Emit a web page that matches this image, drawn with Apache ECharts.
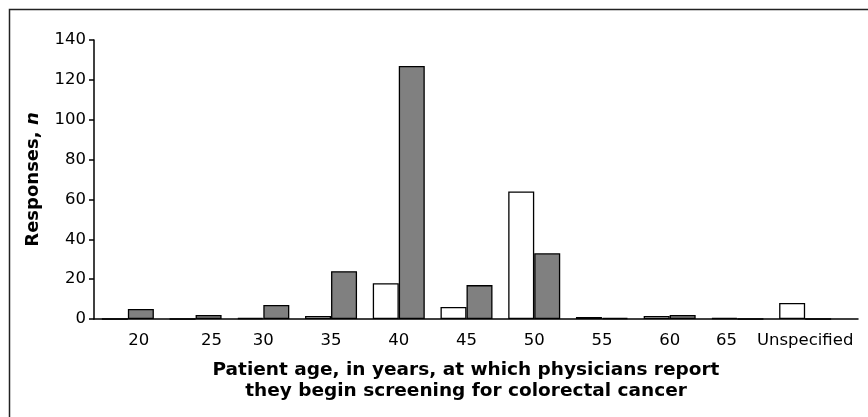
<!DOCTYPE html>
<html>
<head>
<meta charset="utf-8">
<script src="https://cdn.jsdelivr.net/npm/echarts@6/dist/echarts.min.js"></script>
<style>
    html, body { margin: 0; padding: 0; background: #fff; overflow: hidden; }
    #chart-container { width: 868px; height: 417px; }
</style>
</head>
<body>
<div id="chart-container"></div>
<script>
var categories = ['20', '25', '30', '35', '40', '45', '50', '55', '60', '65', 'Unspecified'];
var whiteValues = [0, 0, 0.5, 1.5, 18, 6, 64, 1, 1.5, 0.5, 8];
var grayValues = [5, 2, 7, 24, 127, 17, 33, 0.5, 2, 0, 0];
var yTicks = { min: 0, max: 140, interval: 20 };

var ScreeningAgeChart = function () {
    var _chart = function () {
        var dom = document.getElementById('chart-container');
        var screeningChart = echarts.init(dom, null, {
            renderer: 'canvas',
            useDirtyRect: false
        });
        var labelFont = 'DejaVu Sans';

        var option = {
            backgroundColor: '#fff',
            animation: false,
            graphic: [
                {
                    // frame: only the top and left edges show in the picture
                    type: 'polyline',
                    shape: { points: [[9.5, 420], [9.5, 9.5], [870, 9.5]] },
                    style: { fill: null, stroke: '#222', lineWidth: 1.5 },
                    silent: true
                }
            ],
            title: {
                text: 'Patient age, in years, at which physicians report\nthey begin screening for colorectal cancer',
                left: 461,
                top: 355,
                textAlign: 'center',
                textStyle: {
                    fontFamily: labelFont,
                    fontWeight: 'bold',
                    fontSize: 18.5,
                    lineHeight: 21,
                    color: '#000'
                }
            },
            grid: [
                { left: 94, right: 29, top: 40, bottom: 98 },
                { left: 94, right: 10, top: 40, bottom: 98 }
            ],
            xAxis: [
                {
                    type: 'category',
                    gridIndex: 0,
                    data: categories,
                    axisLine: { show: false },
                    axisTick: { show: false },
                    axisLabel: {
                        fontFamily: labelFont,
                        fontSize: 16.5,
                        color: '#000',
                        margin: 13,
                        interval: 0,
                        formatter: function (value, idx) {
                            if (idx == 0) return '{a|' + value + '}';
                            if (idx == 1) return '{b|' + value + '}';
                            if (idx == 9) return '{c|' + value + '}';
                            return value;
                        },
                        rich: {
                            a: { fontFamily: labelFont, fontSize: 16.5, color: '#000', padding: [0, 0, 0, 22] },
                            b: { fontFamily: labelFont, fontSize: 16.5, color: '#000', padding: [0, 0, 0, 32] },
                            c: { fontFamily: labelFont, fontSize: 16.5, color: '#000', padding: [0, 22, 0, 0] }
                        }
                    }
                },
                {
                    // axis line runs a little past the last category
                    type: 'value',
                    gridIndex: 1,
                    min: 0,
                    max: 1,
                    axisLine: { show: true, onZero: false, lineStyle: { color: '#000', width: 1.5 } },
                    axisTick: { show: false },
                    axisLabel: { show: false },
                    splitLine: { show: false }
                }
            ],
            yAxis: [
                {
                    type: 'value',
                    gridIndex: 0,
                    min: yTicks.min,
                    max: yTicks.max,
                    interval: yTicks.interval,
                    name: 'Responses, {i|n}',
                    nameLocation: 'middle',
                    nameRotate: 90,
                    nameGap: 52,
                    nameTextStyle: {
                        fontFamily: labelFont,
                        fontWeight: 'bold',
                        fontSize: 18,
                        color: '#000',
                        rich: {
                            i: { fontFamily: labelFont, fontWeight: 'bold', fontStyle: 'italic', fontSize: 18, color: '#000' }
                        }
                    },
                    axisLine: { show: true, lineStyle: { color: '#000', width: 1.5 } },
                    axisTick: { show: true, length: 5, lineStyle: { color: '#000', width: 1.5 } },
                    axisLabel: {
                        fontFamily: labelFont,
                        fontSize: 16.5,
                        color: '#000',
                        margin: 8
                    },
                    splitLine: { show: false }
                },
                {
                    type: 'value',
                    gridIndex: 1,
                    min: 0,
                    max: 1,
                    show: false
                }
            ],
            series: [
                {
                    name: 'White',
                    type: 'bar',
                    xAxisIndex: 0,
                    yAxisIndex: 0,
                    barWidth: 26,
                    barGap: '0%',
                    itemStyle: { color: '#fff', borderColor: '#000', borderWidth: 1.3 },
                    data: whiteValues
                },
                {
                    name: 'Gray',
                    type: 'bar',
                    xAxisIndex: 0,
                    yAxisIndex: 0,
                    barWidth: 26,
                    barGap: '0%',
                    itemStyle: { color: '#808080', borderColor: '#000', borderWidth: 1.3 },
                    data: grayValues
                }
            ]
        };

        screeningChart.setOption(option);
        window.addEventListener('resize', screeningChart.resize);
    };

    return {
        init: function () {
            _chart();
        }
    }
}();

document.addEventListener('DOMContentLoaded', function () {
    ScreeningAgeChart.init();
});
</script>
</body>
</html>
